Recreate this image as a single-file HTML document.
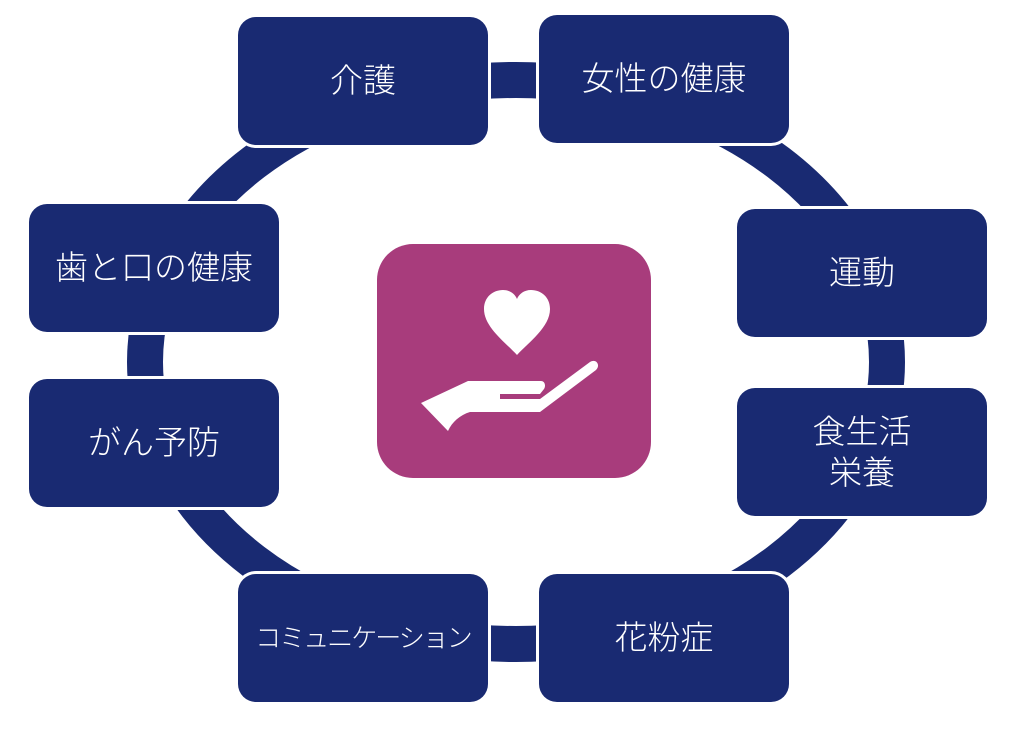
<!DOCTYPE html>
<html><head><meta charset="utf-8"><style>
body{margin:0;width:1017px;height:730px;background:#fff;overflow:hidden;position:relative;font-family:"Liberation Sans","Noto Sans CJK JP",sans-serif}
.b{position:absolute;width:250px;height:128px;background:#192a72;border-radius:18px;color:#fff;font-size:33px;font-weight:300;display:flex;align-items:center;justify-content:center;text-align:center;line-height:1.25;box-shadow:0 0 0 3px #fff}
</style></head><body>
<svg width="1017" height="730" style="position:absolute;left:0;top:0">
<ellipse cx="516" cy="362" rx="371" ry="282" fill="none" stroke="#192a72" stroke-width="36"/>
<rect x="377" y="244" width="274" height="234" rx="36" fill="#a83c7c"/>
<path d="M517 355 C505 342 484 327 484 309 C484 297 493 290 503 290 C510 290 515 294 517 299 C519 294 524 290 531 290 C541 290 550 297 550 309 C550 327 529 342 517 355Z" fill="#fff"/>
<path d="M421 403 L468 381 L541 381 C545 381 546 386 544 389 L540 394 L500 394 L500 399 L540 399 L590 362 C596 358 601 365 596 370 L540 412 L470 412 C460 415 452 422 448 431 Z" fill="#fff"/>
</svg>
<div class="b" style="left:238px;top:17px">介護</div>
<div class="b" style="left:539px;top:15px">女性の健康</div>
<div class="b" style="left:737px;top:209px">運動</div>
<div class="b" style="left:737px;top:388px">食生活<br>栄養</div>
<div class="b" style="left:539px;top:574px">花粉症</div>
<div class="b" style="left:238px;top:574px;font-size:26px;letter-spacing:-2px">コミュニケーション</div>
<div class="b" style="left:29px;top:379px">がん予防</div>
<div class="b" style="left:29px;top:204px">歯と口の健康</div>
</body></html>
